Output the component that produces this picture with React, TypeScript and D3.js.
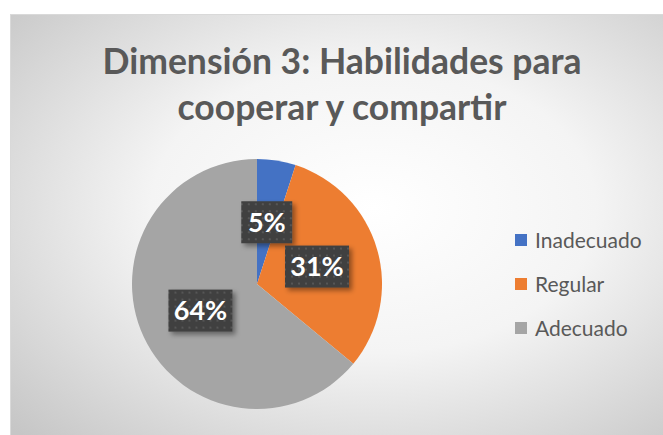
import React from "react";
import * as d3 from "d3";

const categories = ["Inadecuado", "Regular", "Adecuado"];
const values = [5, 31, 64];
const labels = ["5%", "31%", "64%"];
const colors = ["#4472C4", "#ED7D31", "#A5A5A5"];
const titleLines = ["Dimensión 3: Habilidades para", "cooperar y compartir"];

export default function App() {
  const W = 663, H = 435;
  const cx = 257, cy = 284, r = 125;
  const pie = d3.pie<number>().sort(null).value((d) => d).startAngle(0).endAngle(2 * Math.PI);
  const arcs = pie(values);
  const arc = d3.arc<d3.PieArcDatum<number>>().innerRadius(0).outerRadius(r);
  const font = "Lato, 'Open Sans', sans-serif";
  return (
    <svg width={W} height={H} style={{ position: "absolute", left: 0, top: 0 }}>
      <defs>
        <radialGradient id="bg" cx="55%" cy="45%" r="75%">
          <stop offset="0%" stopColor="#ffffff" />
          <stop offset="45%" stopColor="#f4f4f4" />
          <stop offset="100%" stopColor="#c6c6c6" />
        </radialGradient>
        <pattern id="dots" width="7" height="7" patternUnits="userSpaceOnUse">
          <rect width="7" height="7" fill="#3f3f3f" />
          <rect x="2" y="2" width="2" height="2" fill="#575757" />
        </pattern>
        <filter id="sh" x="-30%" y="-30%" width="160%" height="160%">
          <feDropShadow dx="3" dy="3" stdDeviation="2.5" floodColor="#000" floodOpacity="0.4" />
        </filter>
      </defs>
      <rect x={10.5} y={14.5} width={660} height={430} fill="url(#bg)" stroke="#d9d9d9" />
      {titleLines.map((t, i) => (
        <text key={i} x={342} y={74 + i * 46} textAnchor="middle" fontFamily={font}
          fontWeight="bold" fontSize={35.5} fill="#595959">{t}</text>
      ))}
      <g transform={`translate(${cx},${cy})`}>
        {arcs.map((a, i) => (
          <path key={i} d={arc(a) || ""} fill={colors[i]} />
        ))}
        {arcs.map((a, i) => {
          const [x, y] = arc.centroid(a);
          const w = 13 * labels[i].length + 25;
          const h = 42;
          return (
            <g key={"l" + i} transform={`translate(${x},${y})`}>
              <rect x={-w / 2} y={-h / 2} width={w} height={h} fill="url(#dots)" filter="url(#sh)" />
              <text x={0} y={9.5} textAnchor="middle" fontFamily={font} fontWeight="bold"
                fontSize={27} fill="#ffffff">{labels[i]}</text>
            </g>
          );
        })}
      </g>
      {categories.map((c, i) => (
        <g key={c} transform={`translate(515,${240 + i * 44})`}>
          <rect x={0} y={-6} width={12} height={12} fill={colors[i]} />
          <text x={20} y={7.5} fontFamily={font} fontSize={21} fill="#595959">{c}</text>
        </g>
      ))}
    </svg>
  );
}
